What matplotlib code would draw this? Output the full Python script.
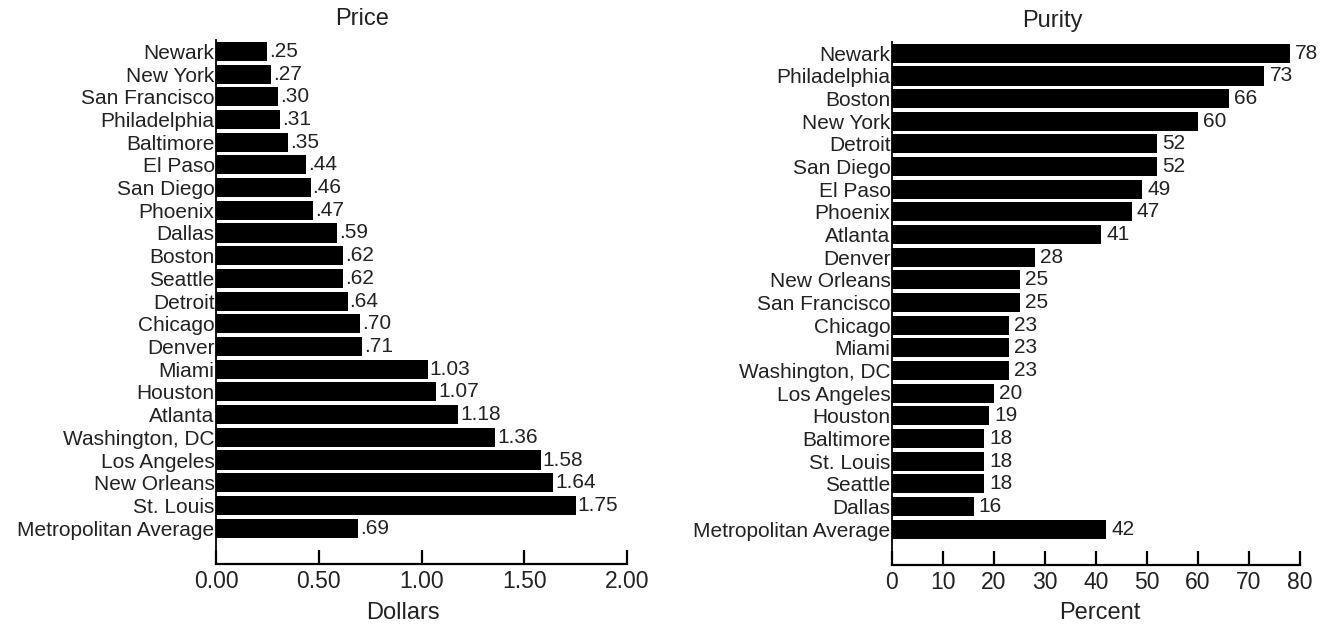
import matplotlib
matplotlib.use("Agg")
import matplotlib.pyplot as plt

plt.rcParams['font.family'] = ['Liberation Sans', 'DejaVu Sans']

price_cities = ["Newark", "New York", "San Francisco", "Philadelphia", "Baltimore",
                "El Paso", "San Diego", "Phoenix", "Dallas", "Boston", "Seattle",
                "Detroit", "Chicago", "Denver", "Miami", "Houston", "Atlanta",
                "Washington, DC", "Los Angeles", "New Orleans", "St. Louis",
                "Metropolitan Average"]
price_values = [0.25, 0.27, 0.30, 0.31, 0.35, 0.44, 0.46, 0.47, 0.59, 0.62, 0.62,
                0.64, 0.70, 0.71, 1.03, 1.07, 1.18, 1.36, 1.58, 1.64, 1.75, 0.69]
price_ticks = [0.0, 0.5, 1.0, 1.5, 2.0]

purity_cities = ["Newark", "Philadelphia", "Boston", "New York", "Detroit",
                 "San Diego", "El Paso", "Phoenix", "Atlanta", "Denver",
                 "New Orleans", "San Francisco", "Chicago", "Miami",
                 "Washington, DC", "Los Angeles", "Houston", "Baltimore",
                 "St. Louis", "Seattle", "Dallas", "Metropolitan Average"]
purity_values = [78, 73, 66, 60, 52, 52, 49, 47, 41, 28, 25, 25, 23, 23, 23, 20,
                 19, 18, 18, 18, 16, 42]
purity_ticks = [0, 10, 20, 30, 40, 50, 60, 70, 80]

FS_Y = 15
FS_X = 16.5
FS_T = 17
TXT = '#222222'

W, H = 1333, 626
fig = plt.figure(figsize=(W / 100, H / 100), dpi=100)


def axbox(x0, x1, ytop, ybot):
    return [x0 / W, 1 - ybot / H, (x1 - x0) / W, (ybot - ytop) / H]


ax1 = fig.add_axes(axbox(216, 627, 40, 564))
ax2 = fig.add_axes(axbox(892, 1300, 42, 565))


def price_fmt(v):
    s = f"{v:.2f}"
    return s[1:] if v < 1 else s


def draw(ax, cats, vals, ticks, xlim, fmt, pad, tickfmt):
    y = list(range(len(cats)))
    ax.barh(y, vals, height=0.84, color='black', edgecolor='none')
    ax.set_yticks(y)
    ax.set_yticklabels(cats, fontsize=FS_Y, color=TXT)
    ax.set_ylim(len(cats) - 1 + 1.58, -0.5)
    ax.set_xlim(*xlim)
    ax.set_xticks(ticks)
    ax.set_xticklabels([tickfmt(t) for t in ticks], fontsize=FS_X, color=TXT)
    for yi, v in zip(y, vals):
        ax.text(v + pad, yi, fmt(v), va='center', ha='left', fontsize=FS_Y, color=TXT)
    ax.spines['top'].set_visible(False)
    ax.spines['right'].set_visible(False)
    ax.spines['left'].set_linewidth(1.3)
    ax.spines['bottom'].set_linewidth(1.6)
    ax.tick_params(axis='y', length=0, pad=1)
    ax.tick_params(axis='x', direction='in', length=10, width=1.6, pad=4)


draw(ax1, price_cities, price_values, price_ticks, (0, 2.0), price_fmt, 0.01,
     lambda t: f"{t:.2f}")
draw(ax2, purity_cities, purity_values, purity_ticks, (0, 80), lambda v: f"{v}", 1.0,
     lambda t: f"{t}")

fig.text(362 / W, 1 - 19 / H, "Price", ha='center', va='center', fontsize=FS_T, color=TXT)
fig.text(1052 / W, 1 - 21 / H, "Purity", ha='center', va='center', fontsize=FS_T, color=TXT)
fig.text(403 / W, 1 - 613 / H, "Dollars", ha='center', va='center', fontsize=FS_T, color=TXT)
fig.text(1100 / W, 1 - 613 / H, "Percent", ha='center', va='center', fontsize=FS_T, color=TXT)

fig.savefig("out.png", dpi=100)
